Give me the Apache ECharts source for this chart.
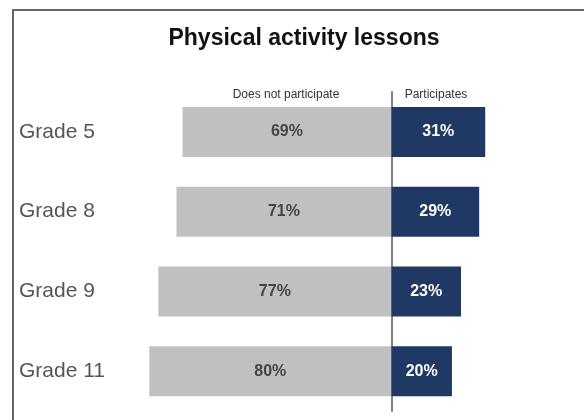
<!DOCTYPE html>
<html>
<head>
<meta charset="utf-8">
<script src="https://cdn.jsdelivr.net/npm/echarts@6/dist/echarts.min.js"></script>
<style>
  html, body { margin: 0; padding: 0; background: #fff; }
  #main { width: 584px; height: 420px; }
</style>
</head>
<body>
<div id="main"></div>
<script>
const grades = ['Grade 5', 'Grade 8', 'Grade 9', 'Grade 11']
const notParticipate = [69, 71, 77, 80]
const participates = [31, 29, 23, 20]

const chart = echarts.init(document.getElementById('main'))

const option = {
  animation: false,
  textStyle: { fontFamily: 'Liberation Sans, Arial, sans-serif' },
  title: {
    text: 'Physical activity lessons',
    left: 299,
    textAlign: 'center',
    top: 22,
    textStyle: { fontSize: 23, fontWeight: 'bold', color: '#111' }
  },
  graphic: [
    {
      type: 'polyline',
      shape: { points: [[13, 420], [13, 10], [584, 10]] },
      style: { stroke: '#666', lineWidth: 2, fill: null }
    },
    {
      type: 'text', x: 286, y: 95,
      style: { text: 'Does not participate', fontSize: 12, fill: '#333', align: 'center', verticalAlign: 'middle', fontFamily: 'Liberation Sans, Arial' }
    },
    {
      type: 'text', x: 436, y: 95,
      style: { text: 'Participates', fontSize: 12, fill: '#333', align: 'center', verticalAlign: 'middle', fontFamily: 'Liberation Sans, Arial' }
    }
  ],
  grid: { left: 119, width: 454, top: 92, height: 319 },
  xAxis: {
    type: 'value',
    min: -90,
    max: 60,
    show: false
  },
  yAxis: {
    type: 'category',
    data: grades,
    inverse: true,
    axisTick: { show: false },
    axisLine: { onZero: true, lineStyle: { color: '#808080', width: 2 } },
    axisLabel: { align: 'left', margin: 100, fontSize: 21, color: '#555' }
  },
  series: [
    {
      name: 'Does not participate',
      type: 'bar',
      stack: 'all',
      barWidth: 50,
      data: notParticipate.map(v => -v),
      itemStyle: { color: '#c0c0c0' },
      label: {
        show: true, position: 'inside', fontSize: 16, fontWeight: 'bold', color: '#444',
        formatter: p => Math.abs(p.value) + '%'
      }
    },
    {
      name: 'Participates',
      type: 'bar',
      stack: 'all',
      barWidth: 50,
      data: participates,
      itemStyle: { color: '#1f3864' },
      label: {
        show: true, position: 'inside', fontSize: 16, fontWeight: 'bold', color: '#fff',
        formatter: p => p.value + '%'
      }
    }
  ]
}

chart.setOption(option)
</script>
</body>
</html>
